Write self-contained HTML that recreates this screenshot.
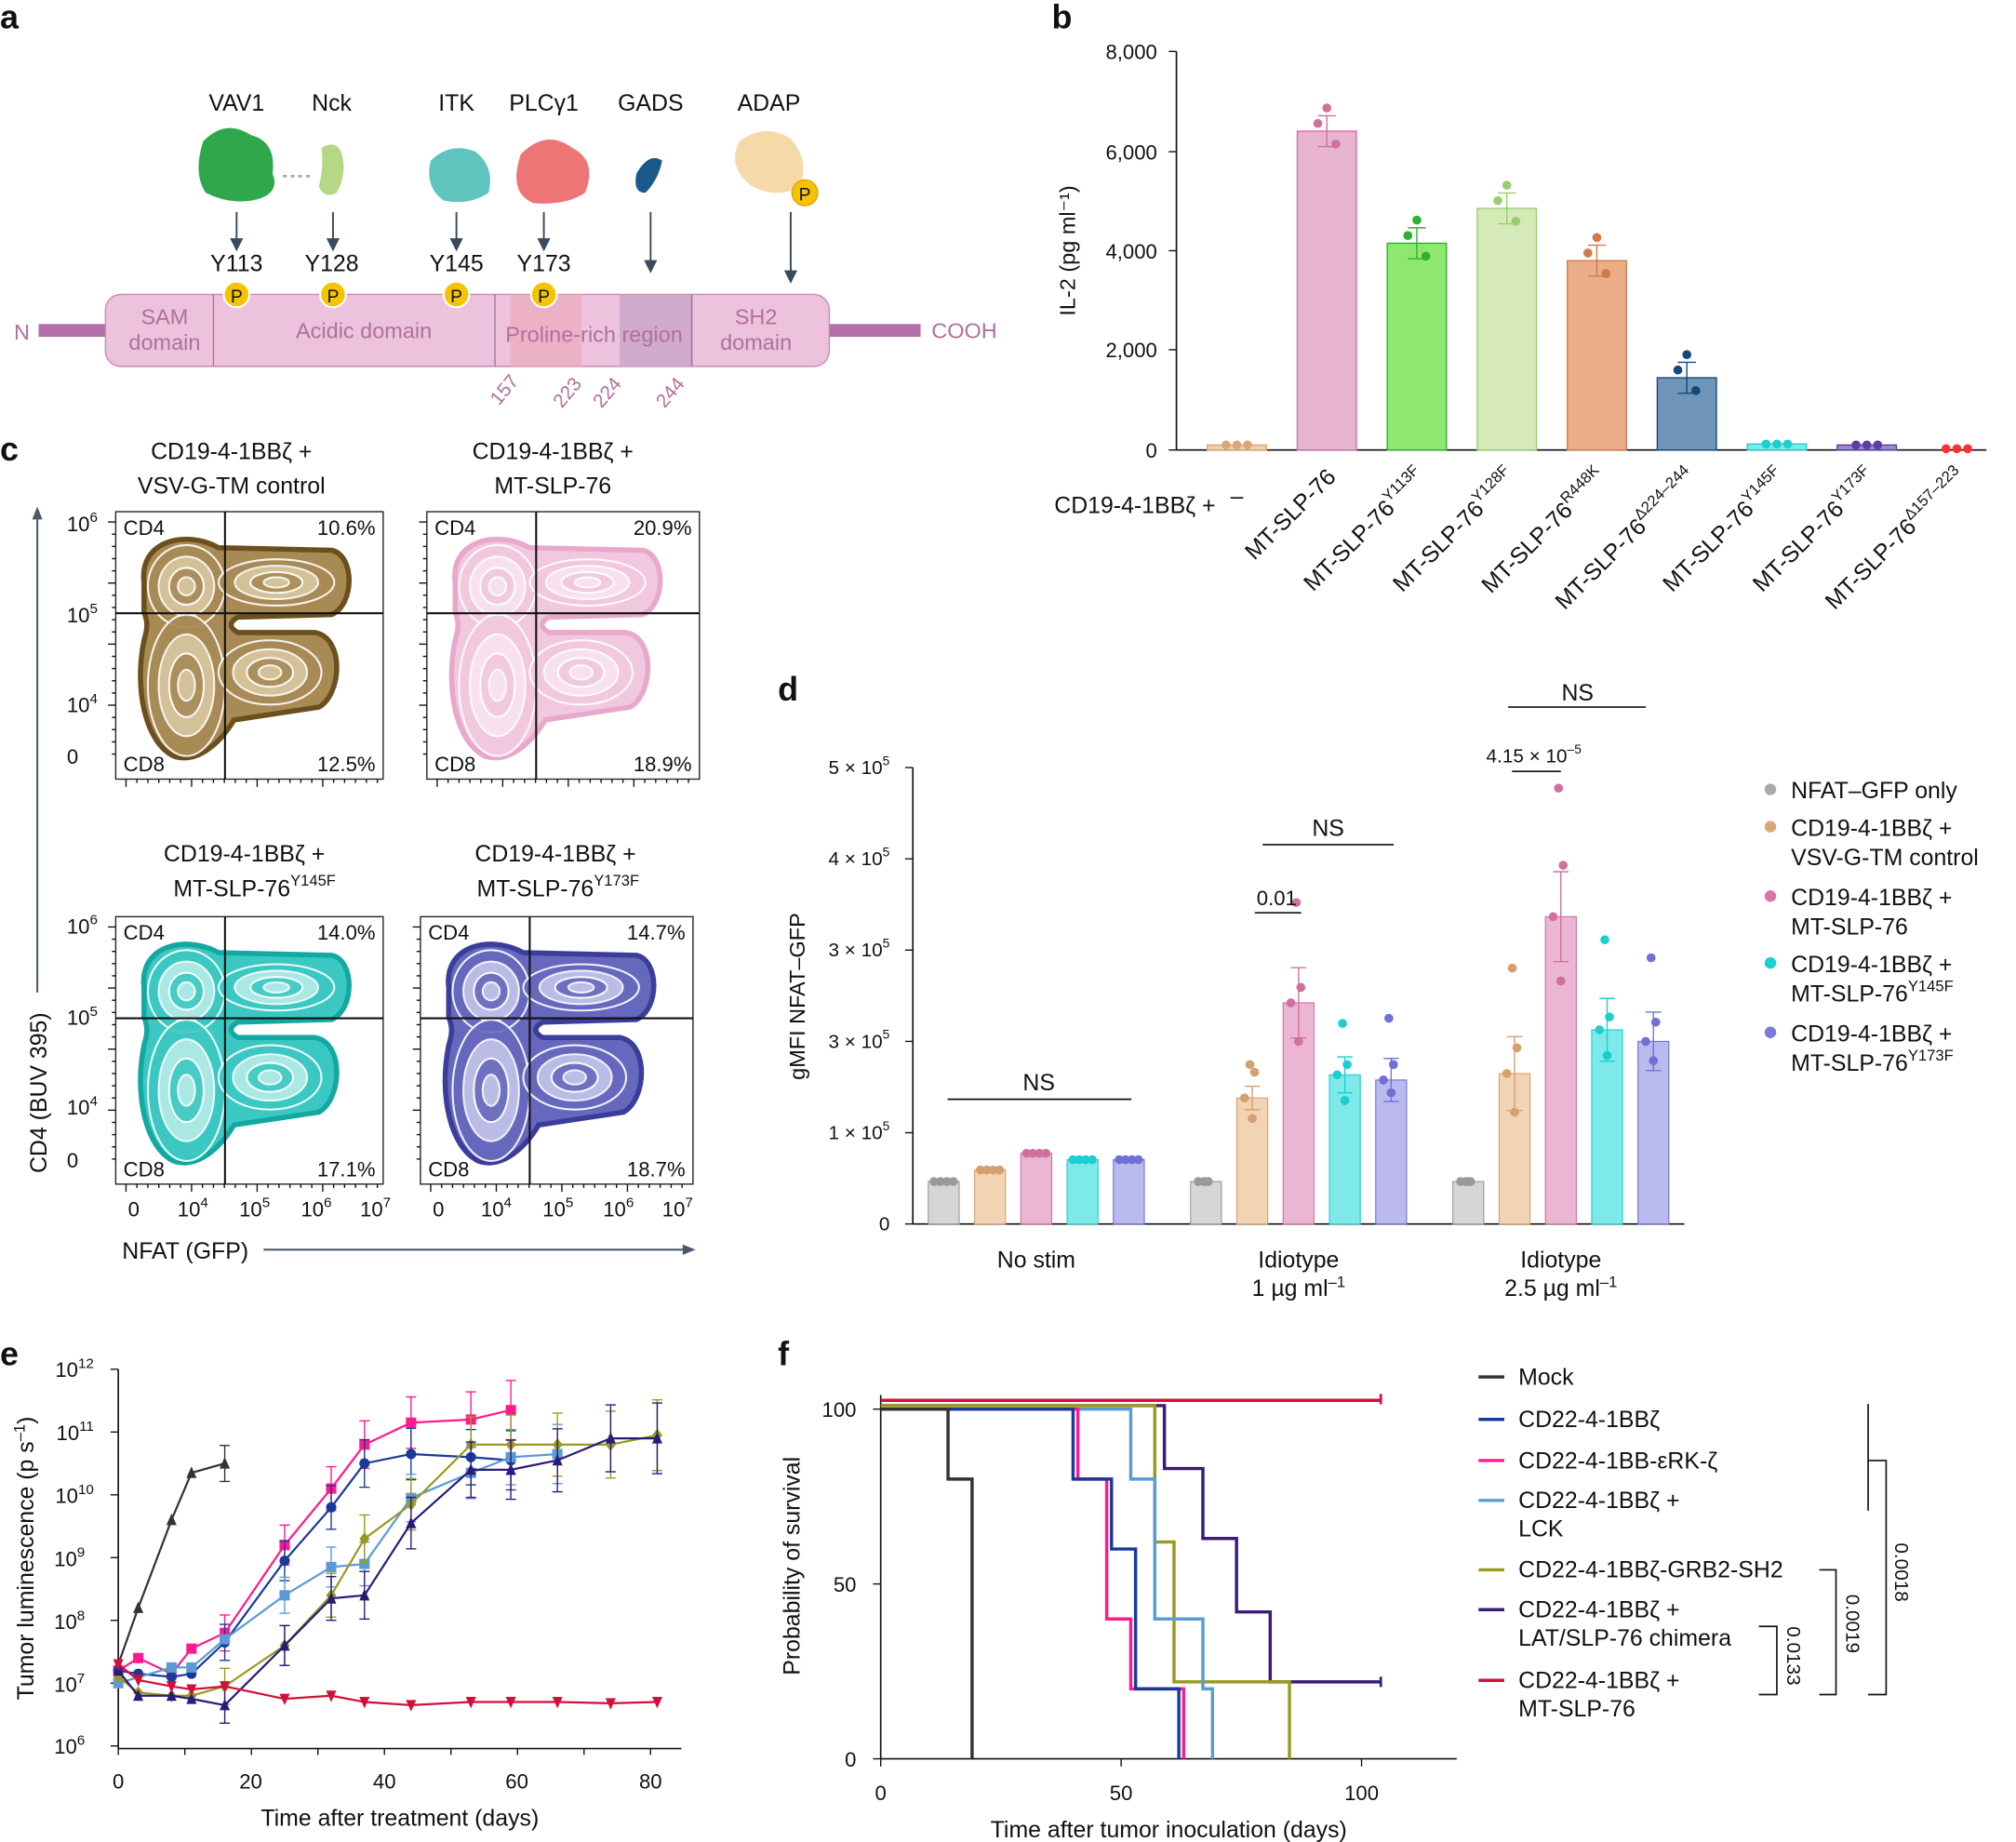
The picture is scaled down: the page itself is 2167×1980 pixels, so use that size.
<!DOCTYPE html>
<html><head><meta charset="utf-8"><style>
html,body{margin:0;padding:0;background:#fff}
svg{display:block}
text{font-family:"Liberation Sans",sans-serif;fill:#111}
</style></head><body>
<svg id="s" width="2167" height="1980" viewBox="0 0 1568 1432.7" xmlns="http://www.w3.org/2000/svg">
<defs>
<path id="blob" d="M22 55 C18 22 55 14 80 28 L168 30 C186 34 186 72 168 80 L95 82 C88 86 88 90 95 94 L155 94 C178 98 176 142 158 152 L92 162 C80 182 62 196 45 190 C24 180 14 140 22 100 C25 90 25 86 22 78 Z"/>
</defs>
<g font-weight="bold" font-size="26">
<text x="0" y="22">a</text><text x="818" y="22">b</text><text x="0" y="358">c</text><text x="605" y="545">d</text><text x="0" y="1062">e</text><text x="605" y="1062">f</text>
</g>
<g font-size="18" text-anchor="middle">
<text x="184" y="86">VAV1</text><text x="258" y="86">Nck</text><text x="355" y="86">ITK</text><text x="423" y="86">PLCγ1</text><text x="506" y="86">GADS</text><text x="598" y="86">ADAP</text>
<text x="184" y="211">Y113</text><text x="258" y="211">Y128</text><text x="355" y="211">Y145</text><text x="423" y="211">Y173</text>
</g>
<g fill="#2ea84a"><path d="M158 110 Q175 92 195 105 Q215 110 212 135 Q218 150 200 155 Q180 160 160 150 Q150 135 158 110Z"/></g>
<path d="M250 115 Q262 108 266 120 Q270 135 262 150 Q252 155 248 145 Q252 130 250 115Z" fill="#b5d887"/>
<path d="M220 137 L242 137" stroke="#aaa" stroke-width="2" stroke-dasharray="3 3"/>
<path d="M335 125 Q350 110 370 118 Q385 130 380 150 Q365 160 345 156 Q330 145 335 125Z" fill="#5fc4bd"/>
<path d="M405 120 Q425 100 445 115 Q465 125 455 150 Q440 160 415 158 Q395 150 405 120Z" fill="#ee7575"/>
<path d="M495 135 Q505 118 515 125 Q512 140 502 150 Q492 150 495 135Z" fill="#1a5a8a"/>
<path d="M575 110 Q595 95 615 108 Q630 125 622 145 Q605 155 585 145 Q565 130 575 110Z" fill="#f5d9a8"/>
<circle cx="626" cy="150" r="10" fill="#f5c400" stroke="#e6a000"/><text x="626" y="156" font-size="14" text-anchor="middle" fill="#d07000">P</text>
<g stroke="#3a4a5a" stroke-width="1.4" fill="#3a4a5a">
<line x1="184" y1="165" x2="184" y2="188"/><path d="M180 186 L184 194 L188 186Z"/>
<line x1="259" y1="165" x2="259" y2="188"/><path d="M255 186 L259 194 L263 186Z"/>
<line x1="355" y1="165" x2="355" y2="188"/><path d="M351 186 L355 194 L359 186Z"/>
<line x1="423" y1="165" x2="423" y2="188"/><path d="M419 186 L423 194 L427 186Z"/>
<line x1="506" y1="165" x2="506" y2="205"/><path d="M502 203 L506 211 L510 203Z"/>
<line x1="615" y1="165" x2="615" y2="212"/><path d="M611 211 L615 219 L619 211Z"/>
</g>
<rect x="30" y="252" width="55" height="10" fill="#b56fa8"/><rect x="640" y="252" width="76" height="10" fill="#b56fa8"/>
<rect x="82" y="229" width="563" height="56" rx="12" fill="#ecc2dc" stroke="#c88ab8"/>
<rect x="397" y="229" width="55" height="56" fill="#eeaabb" opacity=".7"/>
<rect x="482" y="229" width="57" height="56" fill="#c9a5c8" opacity=".8"/>
<g stroke="#b070a0"><line x1="166" y1="229" x2="166" y2="285"/><line x1="385" y1="229" x2="385" y2="285"/><line x1="538" y1="229" x2="538" y2="285"/></g>
<g fill="#f5c400" stroke="#fff" stroke-width="1.5"><circle cx="184" cy="229" r="10"/><circle cx="259" cy="229" r="10"/><circle cx="355" cy="229" r="10"/><circle cx="423" cy="229" r="10"/></g>
<g font-size="14" fill="#d07000" text-anchor="middle"><text x="184" y="235">P</text><text x="259" y="235">P</text><text x="355" y="235">P</text><text x="423" y="235">P</text></g>
<g font-size="17" text-anchor="middle" style="fill:#b070a0">
<text x="128" y="252" style="fill:#b070a0">SAM</text><text x="128" y="272" style="fill:#b070a0">domain</text>
<text x="283" y="263" style="fill:#b070a0">Acidic domain</text>
<text x="462" y="266" style="fill:#b070a0">Proline-rich region</text>
<text x="588" y="252" style="fill:#b070a0">SH2</text><text x="588" y="272" style="fill:#b070a0">domain</text>
<text x="17" y="264" style="fill:#b070a0">N</text><text x="750" y="263" style="fill:#b070a0">COOH</text>
</g>
<g font-size="15" style="fill:#b070a0">
<text transform="translate(388,316) rotate(-50)" style="fill:#b070a0">157</text>
<text transform="translate(437,318) rotate(-50)" style="fill:#b070a0">223</text>
<text transform="translate(468,318) rotate(-50)" style="fill:#b070a0">224</text>
<text transform="translate(517,318) rotate(-50)" style="fill:#b070a0">244</text>
</g>
<g id="pb"></g>
<g font-size="16" text-anchor="end">
<text x="900" y="46">8,000</text><text x="900" y="124">6,000</text><text x="900" y="201">4,000</text><text x="900" y="278">2,000</text><text x="900" y="356">0</text>
</g>
<text transform="translate(836,195) rotate(-90)" font-size="17" text-anchor="middle">IL-2 (pg ml⁻¹)</text>
<text x="820" y="399" font-size="18">CD19-4-1BBζ +</text>
<text x="962" y="392" font-size="18" text-anchor="middle">–</text>
<g font-size="18" text-anchor="end">
<text transform="translate(1040,372) rotate(-45)">MT-SLP-76</text>
<text transform="translate(1110,372) rotate(-45)">MT-SLP-76<tspan font-size="12" dy="-8">Y113F</tspan></text>
<text transform="translate(1180,372) rotate(-45)">MT-SLP-76<tspan font-size="12" dy="-8">Y128F</tspan></text>
<text transform="translate(1250,372) rotate(-45)">MT-SLP-76<tspan font-size="12" dy="-8">R448K</tspan></text>
<text transform="translate(1320,372) rotate(-45)">MT-SLP-76<tspan font-size="12" dy="-8">Δ224–244</tspan></text>
<text transform="translate(1390,372) rotate(-45)">MT-SLP-76<tspan font-size="12" dy="-8">Y145F</tspan></text>
<text transform="translate(1460,372) rotate(-45)">MT-SLP-76<tspan font-size="12" dy="-8">Y173F</tspan></text>
<text transform="translate(1530,372) rotate(-45)">MT-SLP-76<tspan font-size="12" dy="-8">Δ157–223</tspan></text>
</g>
<g font-size="18" text-anchor="middle">
<text x="180" y="357">CD19-4-1BBζ +</text><text x="180" y="384">VSV-G-TM control</text>
<text x="430" y="357">CD19-4-1BBζ +</text><text x="430" y="384">MT-SLP-76</text>
<text x="190" y="670">CD19-4-1BBζ +</text><text x="198" y="697">MT-SLP-76<tspan font-size="12" dy="-8">Y145F</tspan></text>
<text x="432" y="670">CD19-4-1BBζ +</text><text x="434" y="697">MT-SLP-76<tspan font-size="12" dy="-8">Y173F</tspan></text>
</g>
<g id="pc"></g>
<line x1="29" y1="400" x2="29" y2="772" stroke="#4a5a6a" stroke-width="1.5"/><path d="M25 404 L29 394 L33 404Z" fill="#4a5a6a"/>
<text transform="translate(36,850) rotate(-90)" font-size="18" text-anchor="middle">CD4 (BUV 395)</text>
<text x="95" y="979" font-size="18">NFAT (GFP)</text>
<line x1="205" y1="972" x2="535" y2="972" stroke="#4a5a6a" stroke-width="1.5"/><path d="M531 968 L541 972 L531 976Z" fill="#4a5a6a"/>
<g id="pd"></g>
<g font-size="15" text-anchor="end">
<text x="692" y="602">5 × 10<tspan font-size="10" dy="-7">5</tspan></text>
<text x="692" y="673">4 × 10<tspan font-size="10" dy="-7">5</tspan></text>
<text x="692" y="744">3 × 10<tspan font-size="10" dy="-7">5</tspan></text>
<text x="692" y="815">3 × 10<tspan font-size="10" dy="-7">5</tspan></text>
<text x="692" y="886">1 × 10<tspan font-size="10" dy="-7">5</tspan></text>
<text x="692" y="957">0</text>
</g>
<text transform="translate(626,775) rotate(-90)" font-size="17" text-anchor="middle">gMFI NFAT–GFP</text>
<g font-size="18" text-anchor="middle">
<text x="806" y="986">No stim</text>
<text x="1010" y="986">Idiotype</text><text x="1010" y="1008">1 µg ml<tspan font-size="12" dy="-7">–1</tspan></text>
<text x="1214" y="986">Idiotype</text><text x="1214" y="1008">2.5 µg ml<tspan font-size="12" dy="-7">–1</tspan></text>
<text x="808" y="848">NS</text><text x="1033" y="650">NS</text><text x="1227" y="545">NS</text>
<text x="993" y="704" font-size="16">0.01</text>
<text x="1193" y="593" font-size="15">4.15 × 10<tspan font-size="10" dy="-7">–5</tspan></text>
</g>
<g stroke="#111" stroke-width="1.2">
<line x1="737" y1="855" x2="880" y2="855"/><line x1="982" y1="657" x2="1084" y2="657"/><line x1="1173" y1="550" x2="1280" y2="550"/>
<line x1="976" y1="710" x2="1012" y2="710"/><line x1="1176" y1="600" x2="1214" y2="600"/>
</g>
<g font-size="18">
<circle cx="1377" cy="614" r="4.5" fill="#aaa"/><text x="1393" y="621">NFAT–GFP only</text>
<circle cx="1377" cy="643" r="4.5" fill="#d9a878"/><text x="1393" y="650">CD19-4-1BBζ +</text><text x="1393" y="673">VSV-G-TM control</text>
<circle cx="1377" cy="697" r="4.5" fill="#d876a8"/><text x="1393" y="704">CD19-4-1BBζ +</text><text x="1393" y="727">MT-SLP-76</text>
<circle cx="1377" cy="749" r="4.5" fill="#1fcfcf"/><text x="1393" y="756">CD19-4-1BBζ +</text><text x="1393" y="779">MT-SLP-76<tspan font-size="12" dy="-8">Y145F</tspan></text>
<circle cx="1377" cy="803" r="4.5" fill="#7a78d8"/><text x="1393" y="810">CD19-4-1BBζ +</text><text x="1393" y="833">MT-SLP-76<tspan font-size="12" dy="-8">Y173F</tspan></text>
</g>
<g id="pe"></g>
<g font-size="16" text-anchor="end">
<text x="73" y="1071">10<tspan font-size="11" dy="-7">12</tspan></text>
<text x="73" y="1120">10<tspan font-size="11" dy="-7">11</tspan></text>
<text x="73" y="1169">10<tspan font-size="11" dy="-7">10</tspan></text>
<text x="66" y="1218">10<tspan font-size="11" dy="-7">9</tspan></text>
<text x="66" y="1267">10<tspan font-size="11" dy="-7">8</tspan></text>
<text x="66" y="1316">10<tspan font-size="11" dy="-7">7</tspan></text>
<text x="66" y="1364">10<tspan font-size="11" dy="-7">6</tspan></text>
</g>
<g font-size="16" text-anchor="middle"><text x="92" y="1391">0</text><text x="195" y="1391">20</text><text x="299" y="1391">40</text><text x="402" y="1391">60</text><text x="506" y="1391">80</text></g>
<text x="311" y="1420" font-size="18" text-anchor="middle">Time after treatment (days)</text>
<text transform="translate(26,1212) rotate(-90)" font-size="18" text-anchor="middle">Tumor luminescence (p s<tspan font-size="12" dy="-7">–1</tspan><tspan dy="7">)</tspan></text>
<g id="pf"></g>
<g font-size="16" text-anchor="end"><text x="666" y="1102">100</text><text x="666" y="1238">50</text><text x="666" y="1374">0</text></g>
<g font-size="16" text-anchor="middle"><text x="685" y="1400">0</text><text x="872" y="1400">50</text><text x="1059" y="1400">100</text></g>
<text x="909" y="1429" font-size="18" text-anchor="middle">Time after tumor inoculation (days)</text>
<text transform="translate(622,1218) rotate(-90)" font-size="18" text-anchor="middle">Probability of survival</text>
<g font-size="18">
<text x="1181" y="1077">Mock</text>
<text x="1181" y="1110">CD22-4-1BBζ</text>
<text x="1181" y="1142">CD22-4-1BB-εRK-ζ</text>
<text x="1181" y="1173">CD22-4-1BBζ +</text><text x="1181" y="1195">LCK</text>
<text x="1181" y="1227">CD22-4-1BBζ-GRB2-SH2</text>
<text x="1181" y="1258">CD22-4-1BBζ +</text><text x="1181" y="1280">LAT/SLP-76 chimera</text>
<text x="1181" y="1313">CD22-4-1BBζ +</text><text x="1181" y="1335">MT-SLP-76</text>
</g>
<g stroke-width="2.5">
<line x1="1150" y1="1071" x2="1170" y2="1071" stroke="#333"/>
<line x1="1150" y1="1104" x2="1170" y2="1104" stroke="#1a3a9a"/>
<line x1="1150" y1="1136" x2="1170" y2="1136" stroke="#ff1a8c"/>
<line x1="1150" y1="1167" x2="1170" y2="1167" stroke="#5b9bd5"/>
<line x1="1150" y1="1221" x2="1170" y2="1221" stroke="#9a9a20"/>
<line x1="1150" y1="1252" x2="1170" y2="1252" stroke="#3a1a7a"/>
<line x1="1150" y1="1307" x2="1170" y2="1307" stroke="#d0103a"/>
</g>
<g stroke="#111" stroke-width="1.2" fill="none">
<path d="M1368 1265 H1382 V1318 H1368"/><path d="M1415 1221 H1428 V1318 H1415"/>
<path d="M1453 1092 V1175 M1453 1136 H1467 V1318 H1453"/>
</g>
<g font-size="15">
<text transform="translate(1390,1265) rotate(90)">0.0133</text>
<text transform="translate(1436,1240) rotate(90)">0.0019</text>
<text transform="translate(1474,1200) rotate(90)">0.0018</text>
</g>
</svg>
<script>
const NS="http://www.w3.org/2000/svg";
function el(p,t,a){const e=document.createElementNS(NS,t);for(const k in a)e.setAttribute(k,a[k]);p.appendChild(e);return e;}
(function(){const g=document.getElementById('pb');
el(g,'line',{x1:915,y1:40,x2:915,y2:350,stroke:'#111','stroke-width':1.2});
el(g,'line',{x1:915,y1:350,x2:1545,y2:350,stroke:'#111','stroke-width':1.2});
[40,118,195,272,350].forEach(y=>el(g,'line',{x1:909,y1:y,x2:915,y2:y,stroke:'#111'}));
const ys=v=>350-v*310/8000;
const d=[[100,'#f0cfa8','#d9a878'],[6400,'#e8b4d0','#d070a0'],[4150,'#8ee870','#30b030'],[4850,'#d5eab8','#9ccc70'],[3800,'#ecae88','#d07a48'],[1450,'#6f95b8','#134a7a'],[120,'#7de8e8','#1ccfcf'],[100,'#9a88d0','#5a3ea0'],[0,'#ffb0b0','#ff3030']];
d.forEach((b,i)=>{const cx=962+i*70,y=ys(b[0]);
el(g,'rect',{x:cx-23,y:y,width:46,height:350-y,fill:b[1],stroke:b[2],'stroke-width':1});
if(b[0]>300){el(g,'line',{x1:cx,y1:y-12,x2:cx,y2:y+12,stroke:b[2]});el(g,'line',{x1:cx-7,y1:y-12,x2:cx+7,y2:y-12,stroke:b[2]});el(g,'line',{x1:cx-7,y1:y+12,x2:cx+7,y2:y+12,stroke:b[2]});}
const off=b[0]>300?[[-10,-6],[0,-18],[10,10]]:[[-12,0],[0,0],[12,0]];
off.forEach(o=>el(g,'circle',{cx:cx+o[0]*0.7,cy:Math.min(349,y+o[1]),r:3.5,fill:b[2]}));});})();
(function(){const g=document.getElementById('pc');
const P=[[90,398,'#6b4f1d','#a88a55','#d8c8a0','10.6%','12.5%'],[332,398,'#e8a8cc','#f1c8de','#f8e4ef','20.9%','18.9%'],[90,713,'#14a8a3','#3cc8c2','#b6ece8','14.0%','17.1%'],[327,713,'#3a3e9a','#6668bd','#c4c6ea','14.7%','18.7%']];
P.forEach((p,i)=>{const x=p[0],y=p[1],w=i==1||i==3?212:208,h=208;
const s=el(g,'g',{transform:`translate(${x},${y})`});
el(s,'rect',{x:0,y:0,width:w,height:h,fill:'#fff',stroke:'#222','stroke-width':1});
el(s,'use',{href:'#blob',fill:p[3],stroke:p[2],'stroke-width':4});
[[55,58,30,32],[55,135,30,55],[125,55,45,18],[120,125,40,25]].forEach(e=>{
[1,0.72,0.45,0.22].forEach((k,j)=>el(s,'ellipse',{cx:e[0],cy:e[1],rx:e[2]*k,ry:e[3]*k,fill:j%2?p[4]:p[3],stroke:'#fff','stroke-width':1.5,opacity:.9}));});
el(s,'line',{x1:85,y1:0,x2:85,y2:h,stroke:'#111','stroke-width':1.5});
el(s,'line',{x1:0,y1:79,x2:w,y2:79,stroke:'#111','stroke-width':1.5});
const t=(tx,ty,str,a)=>{const e=el(s,'text',{x:tx,y:ty,'font-size':16,'text-anchor':a||'start'});e.textContent=str;};
t(6,18,'CD4');t(6,202,'CD8');t(w-6,18,p[5],'end');t(w-6,202,p[6],'end');
for(let k=0;k<24;k++){el(s,'line',{x1:8+k*8.5,y1:h,x2:8+k*8.5,y2:h+(k%6==0?6:3),stroke:'#111'});}
for(let k=0;k<20;k++){el(s,'line',{x1:0,y1:8+k*9.5,x2:-(k%5==0?6:3),y2:8+k*9.5,stroke:'#111'});}
});
const L=[[78,413,'10','6'],[78,484,'10','5'],[78,554,'10','4'],[78,594,'0',''],[78,726,'10','6'],[78,797,'10','5'],[78,867,'10','4'],[78,908,'0','']];
L.forEach(l=>{const e=el(g,'text',{x:l[0]-26,y:l[1],'font-size':16});e.textContent=l[2];if(l[3]){const ts=el(e,'tspan',{'font-size':11,dy:-7});ts.textContent=l[3];}});
[[104,'0',''],[150,'10','4'],[198,'10','5'],[246,'10','6'],[292,'10','7'],[341,'0',''],[386,'10','4'],[434,'10','5'],[481,'10','6'],[527,'10','7']].forEach(l=>{const e=el(g,'text',{x:l[0],y:946,'font-size':16,'text-anchor':'middle'});e.textContent=l[1];if(l[2]){const ts=el(e,'tspan',{'font-size':11,dy:-7});ts.textContent=l[2];}});
})();
(function(){const g=document.getElementById('pd');
el(g,'line',{x1:710,y1:597,x2:710,y2:952,stroke:'#111','stroke-width':1.2});
el(g,'line',{x1:710,y1:952,x2:1310,y2:952,stroke:'#111','stroke-width':1.2});
[597,668,739,810,881,952].forEach(y=>el(g,'line',{x1:704,y1:y,x2:710,y2:y,stroke:'#111'}));
const C=[['#d6d6d6','#999'],['#f2d3b3','#d4a070'],['#ebb6d2','#d070a0'],['#7ee9e9','#1ccfcf'],['#babaee','#7070d8']];
const H=[[33,42,55,50,50],[33,98,172,116,112],[33,117,239,151,142]];
const X=[734,938,1142];
const PTS=[[[0,0,0],[-3,3,-4],[0,-4,4],[0,0,0],[0,3,-2]],[[0,0,0],[-26,16,-20],[-78,30,-12],[-40,20,-8],[-48,10,-12]],[[0,0,0],[-82,30,-20],[-100,50,-40],[-70,20,-10],[-65,15,-15]]];
H.forEach((grp,gi)=>grp.forEach((h,i)=>{const cx=X[gi]+i*36,y=952-h;
el(g,'rect',{x:cx-12,y:y,width:24,height:h,fill:C[i][0],stroke:C[i][1],'stroke-width':.8});
if(gi>0&&i>0){const e=Math.abs(PTS[gi][i][0])*0.35;el(g,'line',{x1:cx,y1:y-e,x2:cx,y2:y+e,stroke:C[i][1]});el(g,'line',{x1:cx-6,y1:y-e,x2:cx+6,y2:y-e,stroke:C[i][1]});el(g,'line',{x1:cx-6,y1:y+e,x2:cx+6,y2:y+e,stroke:C[i][1]});}
const pp=PTS[gi][i];[[-6,pp[0]],[0,pp[1]],[6,pp[2]],[0,0]].forEach((o,k)=>{const dx=gi==0?(k-1.5)*5:(k==3?-6:o[0]*0.3);el(g,'circle',{cx:cx+dx,cy:y+(gi==0?0:o[1]),r:3.5,fill:C[i][1]});});
}));})();
(function(){const g=document.getElementById('pe');
el(g,'line',{x1:92,y1:1065,x2:92,y2:1360,stroke:'#111','stroke-width':1.2});
el(g,'line',{x1:92,y1:1360,x2:530,y2:1360,stroke:'#111','stroke-width':1.2});
for(let k=0;k<=6;k++)el(g,'line',{x1:86,y1:1065+k*48.83,x2:92,y2:1065+k*48.83,stroke:'#111'});
for(let k=0;k<=8;k++)el(g,'line',{x1:92+k*51.75,y1:1360,x2:92+k*51.75,y2:1365,stroke:'#111'});
const X=d=>92+d*5.175,Y=l=>1358-(l-6)*48.83;
const S=[['#333','tri',[[0,7.3],[3,8.2],[8,9.6],[11,10.35],[16,10.5]]],
['#ff1a8c','sq',[[0,7.2],[3,7.4],[8,7.15],[11,7.55],[16,7.8],[25,9.2],[32,10.1],[37,10.8],[44,11.15],[53,11.2],[59,11.35]]],
['#1a3a9a','ci',[[0,7.2],[3,7.15],[8,7.1],[11,7.15],[16,7.65],[25,8.95],[32,9.8],[37,10.5],[44,10.65],[53,10.6],[59,10.55]]],
['#5b9bd5','sq',[[0,7.0],[8,7.25],[11,7.25],[16,7.7],[25,8.4],[32,8.85],[37,8.9],[44,9.95],[53,10.35],[59,10.6],[66,10.65]]],
['#9a9a20','di',[[0,7.1],[3,6.85],[8,6.8],[11,6.8],[16,6.95],[25,7.6],[32,8.4],[37,9.3],[44,9.85],[53,10.8],[59,10.8],[66,10.8],[74,10.8],[81,10.95]]],
['#2a1a7a','tri',[[0,7.2],[3,6.8],[8,6.8],[11,6.75],[16,6.65],[25,7.6],[32,8.35],[37,8.4],[44,9.55],[53,10.4],[59,10.4],[66,10.55],[74,10.9],[81,10.9]]],
['#d0103a','dtri',[[0,7.3],[3,7.05],[8,6.95],[11,6.9],[16,6.95],[25,6.75],[32,6.8],[37,6.7],[44,6.65],[53,6.7],[59,6.7],[66,6.7],[74,6.68],[81,6.7]]]];
S.forEach(s=>{el(g,'polyline',{points:s[2].map(p=>X(p[0])+','+Y(p[1])).join(' '),fill:'none',stroke:s[0],'stroke-width':1.6});
s[2].forEach((p,i)=>{const x=X(p[0]),y=Y(p[1]);
if(i>3&&s[1]!='dtri'){const e=8+i*1.5;el(g,'line',{x1:x,y1:y-e,x2:x,y2:y+e,stroke:s[0]});el(g,'line',{x1:x-4,y1:y-e,x2:x+4,y2:y-e,stroke:s[0]});el(g,'line',{x1:x-4,y1:y+e,x2:x+4,y2:y+e,stroke:s[0]});}
const r=4;if(s[1]=='sq')el(g,'rect',{x:x-r,y:y-r,width:2*r,height:2*r,fill:s[0]});
else if(s[1]=='ci')el(g,'circle',{cx:x,cy:y,r:r,fill:s[0]});
else if(s[1]=='di')el(g,'path',{d:`M${x} ${y-r-1}L${x+r} ${y}L${x} ${y+r+1}L${x-r} ${y}Z`,fill:s[0]});
else if(s[1]=='tri')el(g,'path',{d:`M${x} ${y-r-1}L${x+r} ${y+r}L${x-r} ${y+r}Z`,fill:s[0]});
else el(g,'path',{d:`M${x} ${y+r+1}L${x+r} ${y-r}L${x-r} ${y-r}Z`,fill:s[0]});});});})();
(function(){const g=document.getElementById('pf');
el(g,'line',{x1:685,y1:1085,x2:685,y2:1368,stroke:'#111','stroke-width':1.2});
el(g,'line',{x1:685,y1:1368,x2:1133,y2:1368,stroke:'#111','stroke-width':1.2});
[1096,1232,1368].forEach(y=>el(g,'line',{x1:679,y1:y,x2:685,y2:y,stroke:'#111'}));
[685,872,1059].forEach(x=>el(g,'line',{x1:x,y1:1368,x2:x,y2:1374,stroke:'#111'}));
const X=d=>685+d*3.74,Y=p=>1368-p*2.72;
function step(c,pts,end,off){let d=`M${X(0)} ${Y(pts[0][1])+off}`;
for(let i=1;i<pts.length;i++){d+=`H${X(pts[i][0])}V${Y(pts[i][1])+off}`;}
if(end)d+=`H${X(end)}`;el(g,'path',{d:d,fill:'none',stroke:c,'stroke-width':2.5});}
step('#d0103a',[[0,102.5]],104,0);
step('#3a1a7a',[[0,101],[59,83],[67,63],[74,42],[81,22]],104,0);
step('#9a9a20',[[0,101],[57,62],[61,22],[85,0]],0,0);
step('#5b9bd5',[[0,100],[52,80],[57,40],[67,20],[69,0]],0,0);
step('#ff1a8c',[[0,100],[41,80],[47,40],[52,20],[63,0]],0,0);
step('#1a3a9a',[[0,100],[40,80],[48,60],[53,20],[62,0]],0,0);
step('#333',[[0,100],[14,80],[19,0]],0,0);
el(g,'line',{x1:X(104),y1:Y(102.5)-5,x2:X(104),y2:Y(102.5)+3,stroke:'#d0103a','stroke-width':2});
el(g,'line',{x1:X(104),y1:Y(22)-4,x2:X(104),y2:Y(22)+4,stroke:'#3a1a7a','stroke-width':2});
})();
</script>
</body></html>
